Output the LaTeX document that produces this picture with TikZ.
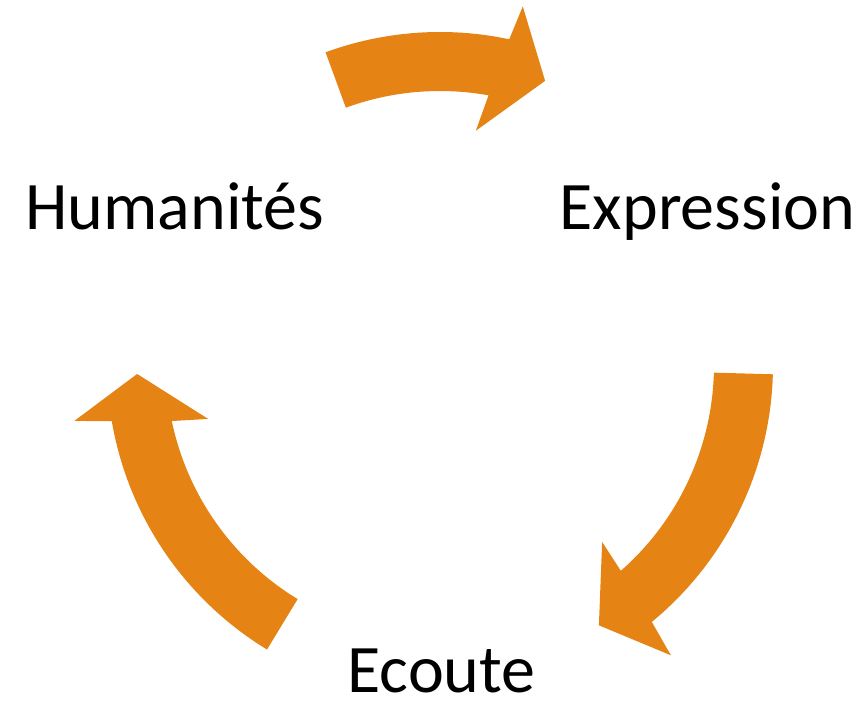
\documentclass[tikz,border=0pt]{standalone}
\usepackage{fontspec}
\setmainfont{Carlito}
\definecolor{arrorange}{RGB}{229,132,20}
\begin{document}
\begin{tikzpicture}[x=1pt,y=1pt,
  lbl/.style={inner sep=0pt,anchor=base,font=\fontsize{68}{80}\selectfont,text=black},
  blockarrow/.style={fill=arrorange,draw=none}]
\useasboundingbox (0,0) rectangle (865,702);
\node[lbl] (hum) at (175,472) {Humanités};
\node[lbl] (exp) at (707.5,472) {Expression};
\node[lbl] (eco) at (441.5,10) {Ecoute};
\begin{scope}[shift={(440,337)}]
  % top arrow
  \fill[blockarrow] (110.1:333) arc[start angle=110.1,end angle=78,radius=333]
    -- (77:368) -- (69.7:303) -- (81.3:237) -- (79.8:274)
    arc[start angle=79.8,end angle=110.1,radius=274] -- cycle;
  % right arrow
  \fill[blockarrow] (-1.6:333) arc[start angle=-1.6,end angle=-50.5,radius=333]
    -- (-51.5:371) -- (-58.6:305) -- (-47.5:240) -- (-48.7:274)
    arc[start angle=-48.7,end angle=-1.6,radius=274] -- cycle;
  % left arrow
  \fill[blockarrow] (238.7:333) arc[start angle=238.7,end angle=189.7,radius=333]
    -- (188.7:370) -- (181.7:303) -- (193.1:238) -- (191.8:274)
    arc[start angle=191.8,end angle=238.7,radius=274] -- cycle;
\end{scope}
\end{tikzpicture}
\end{document}
